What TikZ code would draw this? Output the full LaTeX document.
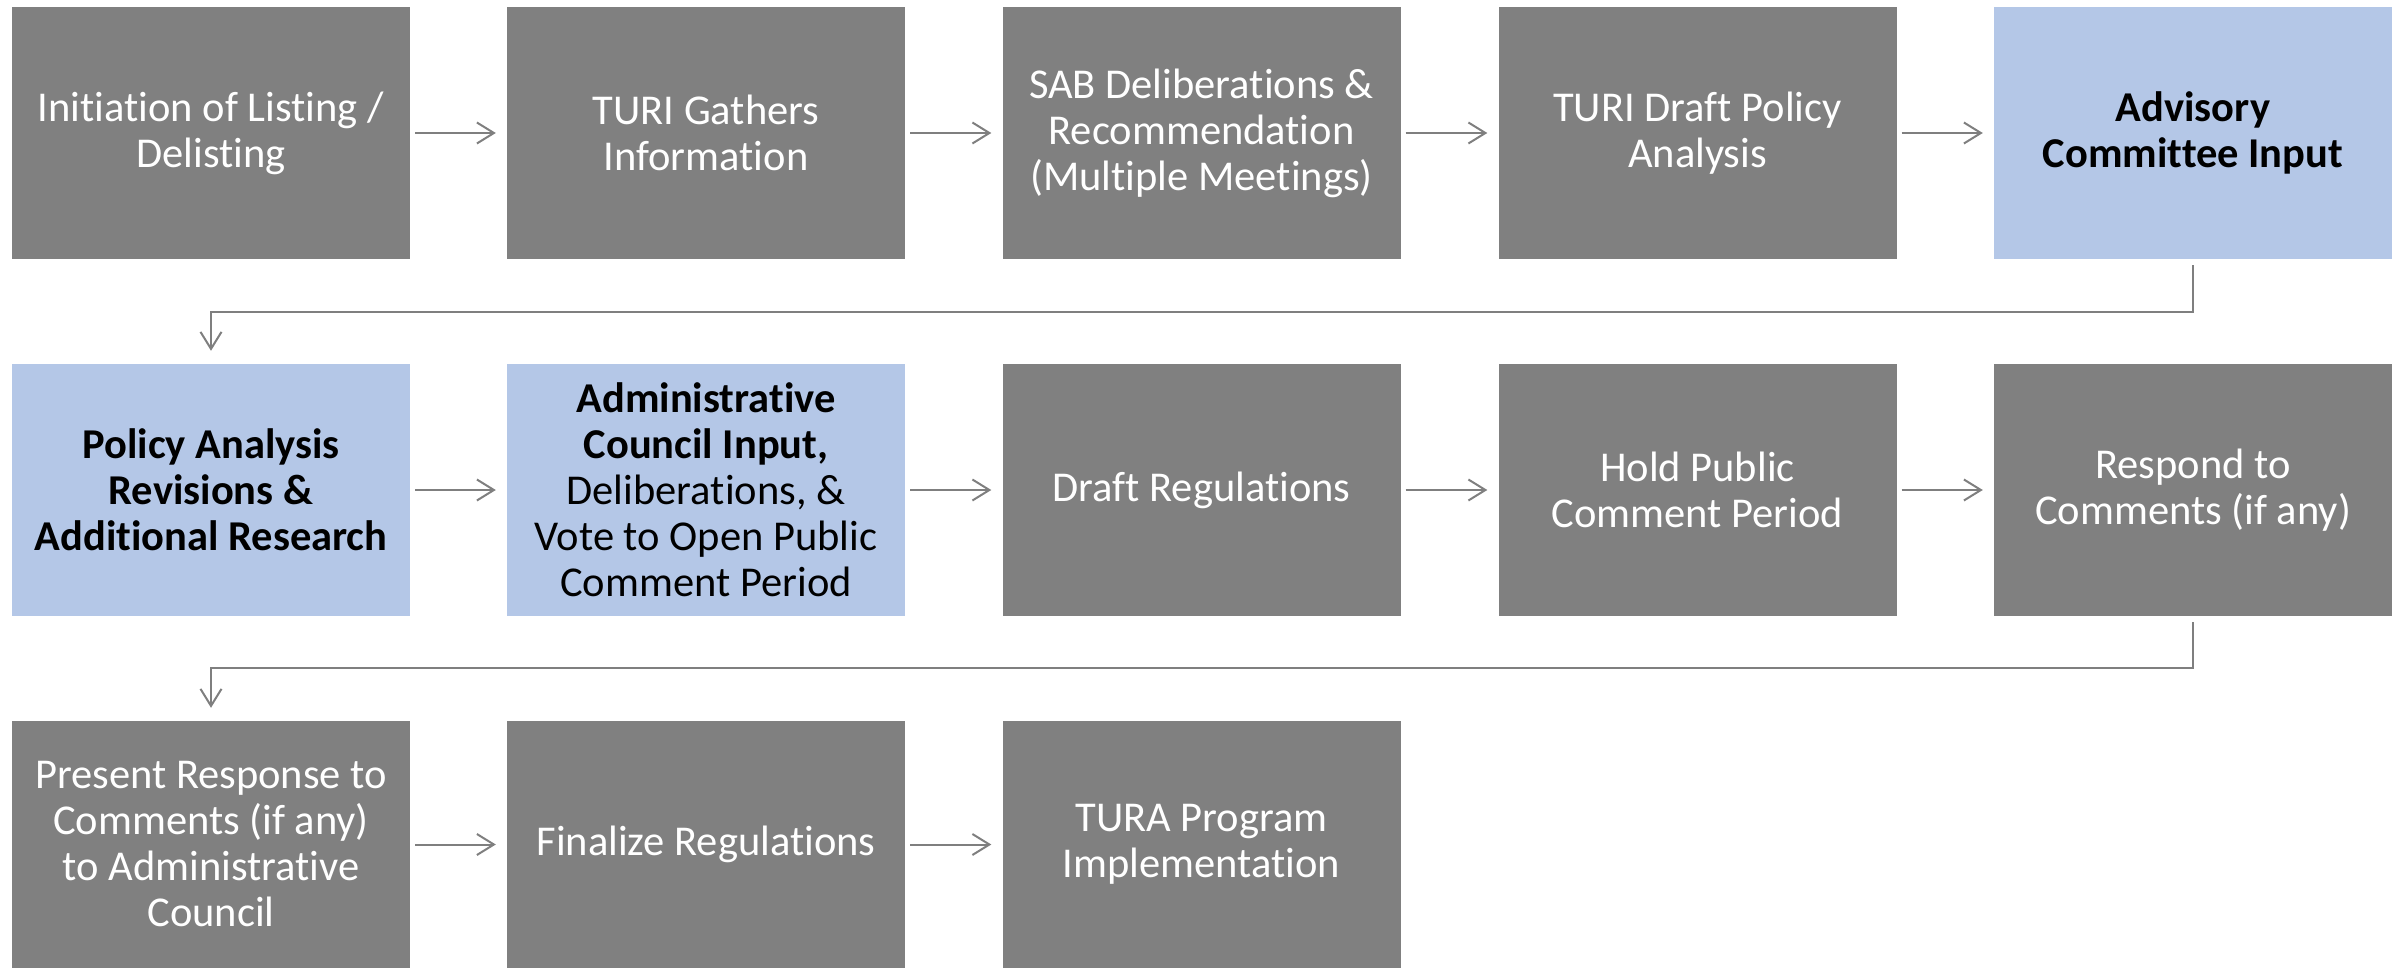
\documentclass[tikz,border=0pt]{standalone}
\usepackage{fontspec}
\setmainfont{Carlito}[Ligatures=NoCommon]
\usetikzlibrary{arrows.meta}
\definecolor{boxgray}{HTML}{808080}
\definecolor{boxblue}{HTML}{B4C7E7}
\definecolor{linegray}{HTML}{7F7F7F}
\tikzset{
  stepbox/.style={minimum width=398pt, minimum height=252pt, inner sep=0pt, align=center,
    font=\fontsize{42.5}{46}\selectfont},
  graybox/.style={stepbox, fill=boxgray, text=white},
  bluebox/.style={stepbox, fill=boxblue, text=black},
  arr/.style={draw=linegray, line width=2pt, -{Straight Barb[length=17pt,width=21pt]}},
}
\begin{document}
\begin{tikzpicture}[x=1pt,y=-1pt]
\useasboundingbox (0,0) rectangle (2403,968);
% row 1
\node[graybox] (n1) at (211,133) {Initiation of Listing /\\Delisting};
\node[graybox] (n2) at (706,133) {TURI Gathers\\Information};
\node[graybox] (n3) at (1201.5,133) {SAB Deliberations \&\\Recommendation\\(Multiple Meetings)};
\node[graybox] (n4) at (1697.5,133) {TURI Draft Policy\\Analysis};
\node[bluebox] (n5) at (2193,133) {\textbf{Advisory}\\\textbf{Committee Input}};
% row 2
\node[bluebox] (n6) at (211,490) {\textbf{Policy Analysis}\\\textbf{Revisions \&}\\\textbf{Additional Research}};
\node[bluebox] (n7) at (706,490) {\textbf{Administrative}\\\textbf{Council Input,}\\Deliberations, \&\\Vote to Open Public\\Comment Period};
\node[graybox] (n8) at (1201.5,490) {Draft Regulations};
\node[graybox] (n9) at (1697.5,490) {Hold Public\\Comment Period};
\node[graybox] (n10) at (2193,490) {Respond to\\Comments (if any)};
% row 3
\node[graybox, minimum height=247pt] (n11) at (211,844.5) {Present Response to\\Comments (if any)\\to Administrative\\Council};
\node[graybox, minimum height=247pt] (n12) at (706,844.5) {Finalize Regulations};
\node[graybox, minimum height=247pt] (n13) at (1201.5,844.5) {TURA Program\\Implementation};
% horizontal arrows
\foreach \a/\b in {n1/n2,n2/n3,n3/n4,n4/n5,n6/n7,n7/n8,n8/n9,n9/n10,n11/n12,n12/n13}{
  \draw[arr, shorten <=5pt, shorten >=11pt] (\a.east) -- (\b.west);
}
% elbow connectors
\coordinate (k1) at (1200,312);
\coordinate (k2) at (1200,668);
\draw[arr, shorten <=6pt, shorten >=13pt] (n5.south) -- (n5.south |- k1) -- (n6.north |- k1) -- (n6.north);
\draw[arr, shorten <=6pt, shorten >=13pt] (n10.south) -- (n10.south |- k2) -- (n11.north |- k2) -- (n11.north);
\end{tikzpicture}
\end{document}
